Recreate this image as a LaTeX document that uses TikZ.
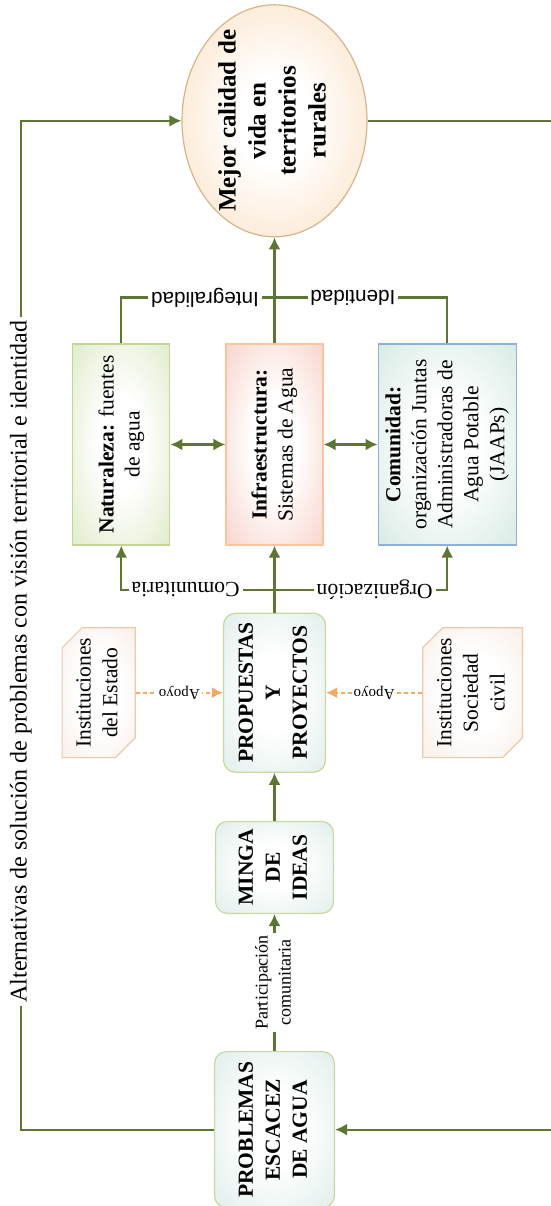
\documentclass[tikz,border=0pt]{standalone}
\usepackage{fontspec}
\setmainfont{Liberation Serif}
\newfontfamily\arialfont{Liberation Sans}
\usepackage{graphicx}
\usepackage{xcolor}
\definecolor{linegreen}{RGB}{94,118,53}
\definecolor{apoyoline}{RGB}{242,170,100}
\definecolor{natline}{RGB}{195,214,150}
\definecolor{natfill}{RGB}{214,228,184}
\definecolor{infline}{RGB}{250,196,160}
\definecolor{inffill}{RGB}{246,196,184}
\definecolor{comline}{RGB}{140,176,214}
\definecolor{comfill}{RGB}{200,226,218}
\definecolor{procline}{RGB}{200,216,160}
\definecolor{procfill}{RGB}{212,232,228}
\definecolor{ellline}{RGB}{214,180,140}
\definecolor{ellfill}{RGB}{250,208,164}
\definecolor{instline}{RGB}{240,200,170}
\definecolor{instfill}{RGB}{246,232,222}
\usepackage{tikz}
\usetikzlibrary{arrows.meta, positioning, shapes.geometric, shapes.misc}

\pgfdeclareradialshading{natshade}{\pgfpoint{0bp}{0bp}}{color(0bp)=(white); color(12bp)=(white); color(45bp)=(natfill); color(72bp)=(natfill)}
\pgfdeclareradialshading{infshade}{\pgfpoint{0bp}{0bp}}{color(0bp)=(white); color(12bp)=(white); color(45bp)=(inffill); color(72bp)=(inffill)}
\pgfdeclareradialshading{comshade}{\pgfpoint{0bp}{0bp}}{color(0bp)=(white); color(12bp)=(white); color(45bp)=(comfill); color(72bp)=(comfill)}
\pgfdeclareradialshading{procshade}{\pgfpoint{0bp}{0bp}}{color(0bp)=(white); color(12bp)=(white); color(45bp)=(procfill); color(72bp)=(procfill)}
\pgfdeclareradialshading{ellshade}{\pgfpoint{0bp}{0bp}}{color(0bp)=(white); color(10bp)=(white); color(48bp)=(ellfill); color(72bp)=(ellfill)}
\pgfdeclareradialshading{instshade}{\pgfpoint{0bp}{0bp}}{color(0bp)=(white); color(15bp)=(white); color(45bp)=(instfill); color(72bp)=(instfill)}

\newcommand{\vtxt}[1]{\rotatebox{90}{\begin{tabular}{@{}c@{}}#1\end{tabular}}}

\begin{document}
\begin{tikzpicture}[x=0.5pt, y=-0.5pt,
  arr/.style={-{Latex[length=6pt,width=6pt]}, line width=1.1pt, draw=linegreen},
  dblarr/.style={{Latex[length=6pt,width=6pt]}-{Latex[length=6pt,width=6pt]}, line width=1.1pt, draw=linegreen},
  link/.style={line width=1.1pt, draw=linegreen},
  apoyo/.style={-{Latex[length=5.5pt,width=5.5pt]}, line width=0.8pt, draw=apoyoline, dash pattern=on 2pt off 1.5pt},
  procbox/.style={draw=procline, shading=procshade, rounded corners=6pt, line width=0.6pt,
    inner sep=0pt, font=\fontsize{10.75}{13.5}\selectfont\bfseries},
  areabox/.style={line width=0.6pt, inner sep=0pt, minimum height=100.5pt,
    font=\fontsize{10.75}{13}\selectfont},
  instbox/.style={chamfered rectangle, chamfered rectangle corners={north west,south east},
    chamfered rectangle xsep=5pt, chamfered rectangle ysep=5pt, draw=instline, shading=instshade,
    line width=0.6pt, inner sep=0pt, font=\fontsize{10.75}{13.3}\selectfont},
  flip/.style={fill=white, inner sep=1.5pt, rotate=180},
  sanslbl/.style={flip, font=\arialfont\fontsize{10.3}{12}\selectfont},
  seriflbl/.style={flip, font=\fontsize{10.8}{12}\selectfont},
  apoyolbl/.style={flip, inner sep=1pt, font=\fontsize{7.5}{9}\selectfont}]

  \useasboundingbox (0,0) rectangle (551,1206);
  \clip (0,0) rectangle (551,1206);

  \node[areabox, draw=infline, shading=infshade, minimum width=48.5pt] (inf) at (274.5,444.5)
    {\vtxt{\textbf{Infraestructura:}\\Sistemas de Agua}};
  \node[areabox, draw=natline, shading=natshade, minimum width=48.5pt, left=27.5pt of inf] (nat)
    {\vtxt{\textbf{Naturaleza:} fuentes\\de agua}};
  \node[areabox, draw=comline, shading=comshade, minimum width=69pt, right=27pt of inf] (com)
    {\vtxt{\textbf{Comunidad:}\\organización Juntas\\Administradoras de\\Agua Potable\\(JAAPs)}};

  \node[ellipse, draw=ellline, shading=ellshade, line width=0.6pt, inner xsep=0pt, inner ysep=-6pt,
    minimum width=92.5pt, minimum height=116pt, above=53pt of inf,
    font=\fontsize{12.5}{15}\selectfont\bfseries] (mejor)
    {\vtxt{Mejor calidad de\\vida en\\territorios\\rurales}};

  \node[procbox, minimum width=51pt, minimum height=79.5pt, below=33.5pt of inf] (prop)
    {\vtxt{PROPUESTAS\\Y\\PROYECTOS}};
  \node[instbox, minimum width=34.5pt, minimum height=64.5pt, left=43.5pt of prop] (est)
    {\vtxt{Instituciones\\del Estado}};
  \node[instbox, minimum width=47pt, minimum height=64.5pt, right=48pt of prop] (soc)
    {\vtxt{Instituciones\\Sociedad\\civil}};
  \node[procbox, minimum width=59pt, minimum height=46pt, below=24pt of prop] (minga)
    {\vtxt{MINGA\\DE\\IDEAS}};
  \node[procbox, minimum width=60pt, minimum height=78pt, below=68.5pt of minga] (prob)
    {\vtxt{PROBLEMAS\\ESCACEZ\\DE AGUA}};

  \coordinate[above=23pt of inf] (jn);
  \coordinate[above=11.5pt of prop] (sp);
  \coordinate[left=96.5pt of prob] (lft);
  \coordinate[right=120pt of mejor] (rgt);

  \draw[arr] (prob.north) -- node[fill=white, inner sep=1pt, font=\fontsize{9}{11.5}\selectfont]
    {\vtxt{Participación\\comunitaria}} (minga.south);
  \draw[arr] (minga.north) -- (prop.south);

  \draw[apoyo] (est.east) -- node[apoyolbl] {Apoyo} (prop.west);
  \draw[apoyo] (soc.west) -- node[apoyolbl] {Apoyo} (prop.east);

  \draw[arr] (prop.north) -- (inf.south);
  \draw[arr] (sp) -| node[seriflbl, pos=0.29] {Comunitaria} (nat.south);
  \draw[arr] (sp) -| node[seriflbl, pos=0.29] {Organización} (com.south);

  \draw[dblarr] (nat.east) -- (inf.west);
  \draw[dblarr] (inf.east) -- (com.west);

  \draw[link] (nat.north) |- node[sanslbl, pos=0.773] {Integralidad} (jn);
  \draw[link] (com.north) |- node[sanslbl, pos=0.773] {Identidad} (jn);
  \draw[arr] (inf.north) -- (mejor.south);

  \draw[arr] (prob.west) -- (lft) |- node[pos=0.232, fill=white, inner sep=2pt,
    font=\fontsize{12}{14}\selectfont]
    {\rotatebox{90}{Alternativas de solución de problemas con visión territorial e identidad}} (mejor.west);
  \draw[arr] (mejor.east) -- (rgt) |- (prob.east);

\end{tikzpicture}
\end{document}
